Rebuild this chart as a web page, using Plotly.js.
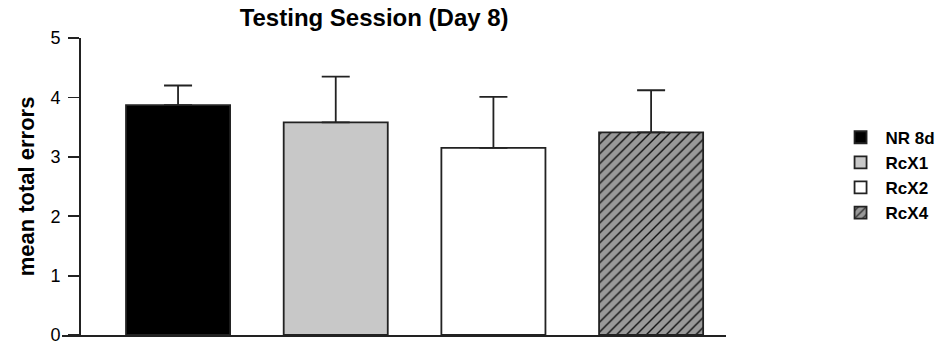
<!DOCTYPE html>
<html>
<head>
<meta charset="utf-8">
<script src="https://cdn.plot.ly/plotly-3.0.1.min.js"></script>
<style>
html,body{margin:0;padding:0;background:#fff;}
#chart{width:952px;height:345px;}
</style>
</head>
<body>
<div id="chart"></div>
<script>
var groups = ["NR 8d", "RcX1", "RcX2", "RcX4"];
var means = [3.87, 3.58, 3.15, 3.41];
var errUpper = [0.33, 0.77, 0.86, 0.71];
var yTicks = [0, 1, 2, 3, 4, 5];
var fills = ["#000000", "#c8c8c8", "#ffffff", "#999999"];
var patterns = ["", "", "", "/"];

var FONT = "Liberation Sans, Arial, sans-serif";

var traces = groups.map(function (g, i) {
  return {
    type: "bar",
    name: g,
    x: [g],
    y: [means[i]],
    width: 0.66,
    marker: {
      color: fills[i],
      line: {color: "#222222", width: 1.8},
      pattern: {shape: patterns[i], fgcolor: "#111111", bgcolor: fills[i], size: 7, solidity: 0.2}
    },
    error_y: {
      type: "data",
      symmetric: false,
      array: [errUpper[i]],
      arrayminus: [0],
      color: "#222222",
      thickness: 1.8,
      width: 14
    },
    hoverinfo: "skip"
  };
});

var layout = {
  width: 952,
  height: 345,
  margin: {l: 62, r: 226, t: 38, b: 10},
  paper_bgcolor: "#ffffff",
  plot_bgcolor: "#ffffff",
  barmode: "overlay",
  showlegend: true,
  title: {
    text: "<b>Testing Session (Day 8)</b>",
    font: {family: FONT, size: 24, color: "#000"},
    xref: "container", yref: "container",
    x: 0.393, xanchor: "center",
    y: 0.948, yanchor: "middle"
  },
  xaxis: {
    type: "category",
    categoryorder: "array",
    categoryarray: groups,
    range: [-0.736, 3.475],
    showticklabels: false,
    ticks: "",
    showgrid: false,
    zeroline: false,
    showline: true,
    linecolor: "#222",
    linewidth: 1.8,
    fixedrange: true
  },
  yaxis: {
    range: [0, 5],
    anchor: "free",
    position: 0.0256,
    tickvals: yTicks,
    ticktext: yTicks.map(String),
    ticks: "outside",
    ticklen: 11,
    tickwidth: 1.8,
    tickcolor: "#222",
    ticklabelstandoff: 4,
    ticklabeloverflow: "allow",
    showline: true,
    linecolor: "#222",
    linewidth: 1.8,
    showgrid: false,
    zeroline: false,
    tickfont: {family: FONT, size: 18, color: "#000"},
    title: {
      text: "<b>mean total errors</b>",
      font: {family: FONT, size: 22, color: "#000"},
      standoff: 8
    },
    fixedrange: true
  },
  legend: {
    x: 1.165, xanchor: "left",
    y: 0.725, yanchor: "top",
    font: {family: FONT, size: 17, color: "#000", weight: "bold"},
    bgcolor: "rgba(0,0,0,0)",
    tracegroupgap: 0,
    itemwidth: 40,
    traceorder: "normal"
  }
};

Plotly.newPlot("chart", traces, layout, {displayModeBar: false, staticPlot: true});
</script>
</body>
</html>
